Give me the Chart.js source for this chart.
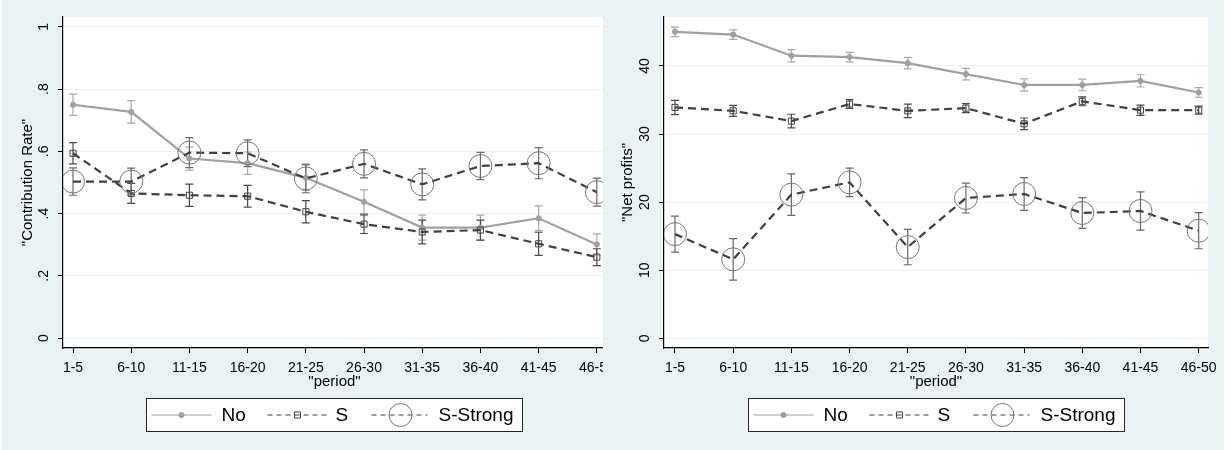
<!DOCTYPE html>
<html>
<head>
<meta charset="utf-8">
<script src="https://cdn.jsdelivr.net/npm/chart.js"></script>
<style>
  html, body { margin: 0; padding: 0; background: #ffffff; }
  body { width: 1231px; height: 450px; overflow: hidden; position: relative; }
  .panel { position: absolute; top: 0; height: 450px; overflow: hidden; background: #eaf2f3; }
  #panelLeft { left: 2px; width: 601px; }
  #panelRight { left: 603px; width: 621px; }
  canvas { display: block; }
</style>
</head>
<body>
<div class="panel" id="panelLeft"><canvas id="contribution" width="620" height="450"></canvas></div>
<div class="panel" id="panelRight"><canvas id="profits" width="621" height="450"></canvas></div>
<script>
// Periods (rounds grouped in blocks of five)
const periods = ['1-5', '6-10', '11-15', '16-20', '21-25', '26-30', '31-35', '36-40', '41-45', '46-50'];
const seriesNames = ['No', 'S', 'S-Strong'];

// Contribution rate: group means and 95% CI half-widths
const contribNo = [0.750, 0.727, 0.577, 0.562, 0.515, 0.438, 0.355, 0.355, 0.385, 0.301];
const contribNoCI = [0.034, 0.036, 0.037, 0.036, 0.040, 0.038, 0.040, 0.040, 0.040, 0.034];
const contribS = [0.594, 0.465, 0.459, 0.456, 0.406, 0.366, 0.341, 0.347, 0.303, 0.260];
const contribSCI = [0.034, 0.032, 0.036, 0.035, 0.036, 0.030, 0.038, 0.032, 0.037, 0.027];
const contribStrong = [0.503, 0.503, 0.596, 0.594, 0.513, 0.560, 0.494, 0.553, 0.562, 0.469];
const contribStrongCI = [0.044, 0.043, 0.048, 0.043, 0.046, 0.045, 0.050, 0.044, 0.050, 0.045];
const contribTicks = [0, 0.2, 0.4, 0.6, 0.8, 1];
const contribTickLabels = ['0', '.2', '.4', '.6', '.8', '1'];

// Net profits: group means and 95% CI half-widths
const profitNo = [45.0, 44.6, 41.5, 41.3, 40.4, 38.8, 37.2, 37.2, 37.8, 36.1];
const profitNoCI = [0.7, 0.7, 0.9, 0.7, 0.85, 0.85, 0.9, 0.85, 0.9, 0.7];
const profitS = [33.9, 33.4, 31.9, 34.4, 33.4, 33.8, 31.5, 34.8, 33.5, 33.5];
const profitSCI = [1.05, 0.8, 1.0, 0.65, 1.0, 0.65, 0.85, 0.65, 0.75, 0.6];
const profitStrong = [15.3, 11.6, 21.1, 22.9, 13.4, 20.6, 21.2, 18.4, 18.7, 15.8];
const profitStrongCI = [2.65, 3.05, 3.05, 2.1, 2.6, 2.2, 2.4, 2.25, 2.8, 2.65];
const profitTicks = [0, 10, 20, 30, 40];
const profitTickLabels = ['0', '10', '20', '30', '40'];

const FONT = "'Liberation Sans', Arial, Helvetica, sans-serif";

// Visual style for each series: line, marker, confidence caps
const seriesStyles = [
  { color: '#a0a0a0', dash: [], width: 2.2, point: 'circle', radius: 2.6, fill: '#a0a0a0', pointBorder: '#a0a0a0', pointWidth: 1, ciColor: '#a8a8a8' },
  { color: '#404040', dash: [8, 5], width: 2.2, point: 'rect', radius: 4.3, fill: 'rgba(0,0,0,0)', pointBorder: '#404040', pointWidth: 1, ciColor: '#484848' },
  { color: '#404040', dash: [8, 5], width: 2.2, point: 'circle', radius: 11.5, fill: 'rgba(0,0,0,0)', pointBorder: '#767676', pointWidth: 1, ciColor: '#6a6a6a' }
];

// White plot region on the light graph background
const plotRegion = {
  id: 'plotRegion',
  beforeDraw(chart) {
    const { ctx, chartArea: a } = chart;
    ctx.save();
    ctx.fillStyle = '#ffffff';
    ctx.fillRect(a.left, a.top, a.right - a.left, a.bottom - a.top);
    ctx.restore();
  }
};

// Capped confidence intervals around each mean
const ciCaps = {
  id: 'ciCaps',
  beforeDatasetsDraw(chart) {
    const { ctx, chartArea: a, scales: { x, y } } = chart;
    ctx.save();
    ctx.beginPath();
    ctx.rect(a.left, a.top, a.right - a.left, a.bottom - a.top);
    ctx.clip();
    ctx.setLineDash([]);
    ctx.lineWidth = 1.2;
    chart.data.datasets.forEach(ds => {
      ctx.strokeStyle = ds.ciColor;
      ds.data.forEach((p, i) => {
        const px = x.getPixelForValue(p.x);
        const hi = y.getPixelForValue(p.y + ds.ci[i]);
        const lo = y.getPixelForValue(p.y - ds.ci[i]);
        ctx.beginPath();
        ctx.moveTo(px, hi); ctx.lineTo(px, lo);
        ctx.moveTo(px - 4, hi); ctx.lineTo(px + 4, hi);
        ctx.moveTo(px - 4, lo); ctx.lineTo(px + 4, lo);
        ctx.stroke();
      });
    });
    ctx.restore();
  }
};

// Vertical (rotated) value labels on the y axis
const rotatedYLabels = {
  id: 'rotatedYLabels',
  afterDraw(chart, args, opts) {
    const { ctx, chartArea: a, scales: { y } } = chart;
    ctx.save();
    ctx.font = '14px ' + FONT;
    ctx.fillStyle = '#000000';
    ctx.textAlign = 'center';
    ctx.textBaseline = 'middle';
    y.ticks.forEach((t, i) => {
      const py = y.getPixelForValue(t.value);
      ctx.save();
      ctx.translate(a.left - 19, py);
      ctx.rotate(-Math.PI / 2);
      ctx.fillText(opts.labels[i], 0, 0);
      ctx.restore();
    });
    ctx.restore();
  }
};

// Boxed legend underneath the plot, one key per series
const boxedLegend = {
  id: 'boxedLegend',
  afterDraw(chart, args, opts) {
    const { ctx, chartArea: a } = chart;
    const w = 376, h = 33;
    const left = Math.round((a.left + a.right) / 2 - w / 2) + 0.5;
    const top = opts.top + 0.5;
    const cy = top + h / 2;
    const keys = [
      { from: 5, to: 65, mark: 35, text: 75 },
      { from: 121, to: 180, mark: 151, text: 189 },
      { from: 225, to: 281, mark: 254, text: 292 }
    ];
    ctx.save();
    ctx.fillStyle = '#ffffff';
    ctx.fillRect(left, top, w, h);
    ctx.strokeStyle = '#262626';
    ctx.lineWidth = 1;
    ctx.strokeRect(left, top, w, h);
    chart.data.datasets.forEach((ds, i) => {
      const k = keys[i];
      ctx.strokeStyle = ds.borderColor;
      ctx.lineWidth = 1.2;
      ctx.setLineDash(ds.borderDash.length ? [5, 4] : []);
      ctx.beginPath();
      ctx.moveTo(left + k.from, cy);
      ctx.lineTo(left + k.to, cy);
      ctx.stroke();
      ctx.setLineDash([]);
      const mx = left + k.mark;
      ctx.strokeStyle = ds.pointBorderColor;
      ctx.fillStyle = ds.pointBackgroundColor;
      ctx.lineWidth = 1;
      ctx.beginPath();
      if (ds.pointStyle === 'rect') {
        const s = ds.pointRadius * Math.SQRT1_2;
        ctx.rect(mx - s, cy - s, 2 * s, 2 * s);
      } else {
        ctx.arc(mx, cy, ds.pointRadius, 0, Math.PI * 2);
      }
      ctx.fill();
      ctx.stroke();
      ctx.fillStyle = '#000000';
      ctx.font = '19px ' + FONT;
      ctx.textAlign = 'left';
      ctx.textBaseline = 'middle';
      ctx.fillText(ds.label, left + k.text, cy + 1);
    });
    ctx.restore();
  }
};

function makePanel(canvasId, spec) {
  const datasets = spec.series.map((vals, si) => {
    const st = seriesStyles[si];
    return {
      label: seriesNames[si],
      data: vals.map((v, i) => ({ x: i + 1, y: v })),
      ci: spec.cis[si],
      ciColor: st.ciColor,
      borderColor: st.color,
      borderWidth: st.width,
      borderDash: st.dash,
      pointStyle: st.point,
      pointRadius: st.radius,
      pointBackgroundColor: st.fill,
      pointBorderColor: st.pointBorder,
      pointBorderWidth: st.pointWidth,
      tension: 0,
      fill: false,
      order: 3 - si
    };
  });
  return new Chart(document.getElementById(canvasId), {
    type: 'line',
    data: { datasets },
    plugins: [plotRegion, ciCaps, rotatedYLabels, boxedLegend],
    options: {
      responsive: false,
      animation: false,
      devicePixelRatio: 1,
      events: [],
      layout: { padding: { top: 17, right: 16, left: 0, bottom: 0 } },
      plugins: {
        legend: { display: false },
        tooltip: { enabled: false },
        rotatedYLabels: { labels: spec.tickLabels },
        boxedLegend: { top: 398 }
      },
      scales: {
        x: {
          type: 'linear',
          min: spec.xMin,
          max: spec.xMax,
          afterBuildTicks: s => { s.ticks = periods.map((p, i) => ({ value: i + 1 })); },
          afterFit: s => { s.height = 102; },
          ticks: {
            autoSkip: false,
            maxRotation: 0,
            minRotation: 0,
            padding: 7,
            color: '#000000',
            font: { family: FONT, size: 14 },
            callback: v => periods[v - 1]
          },
          grid: { drawOnChartArea: false, drawTicks: true, tickLength: 5, tickColor: '#000000', tickWidth: 1 },
          border: { display: true, color: '#000000', width: 1.2 },
          title: {
            display: true,
            text: '"period"',
            color: '#000000',
            font: { family: FONT, size: 15 },
            padding: { top: 0, bottom: 59 }
          }
        },
        y: {
          type: 'linear',
          min: spec.yMin,
          max: spec.yMax,
          afterBuildTicks: s => { s.ticks = spec.ticks.map(v => ({ value: v })); },
          afterFit: s => { s.width = 61; },
          ticks: { display: false },
          grid: { color: '#eaf2f3', lineWidth: 1, drawTicks: true, tickLength: 5, tickColor: '#000000', tickWidth: 1 },
          border: { display: true, color: '#000000', width: 1.2 },
          title: {
            display: true,
            text: spec.yTitle,
            color: '#000000',
            font: { family: FONT, size: 15 },
            padding: { top: spec.titlePad, bottom: 0 }
          }
        }
      }
    }
  });
}

makePanel('contribution', {
  yTitle: '"Contribution Rate"',
  series: [contribNo, contribS, contribStrong],
  cis: [contribNoCI, contribSCI, contribStrongCI],
  ticks: contribTicks,
  tickLabels: contribTickLabels,
  yMin: -0.032, yMax: 1.032,
  xMin: 0.828, xMax: 10.157,
  titlePad: 17
});

makePanel('profits', {
  yTitle: '"Net profits"',
  series: [profitNo, profitS, profitStrong],
  cis: [profitNoCI, profitSCI, profitStrongCI],
  ticks: profitTicks,
  tickLabels: profitTickLabels,
  yMin: -1.42, yMax: 47.18,
  xMin: 0.811, xMax: 10.16,
  titlePad: 16
});
</script>
</body>
</html>
